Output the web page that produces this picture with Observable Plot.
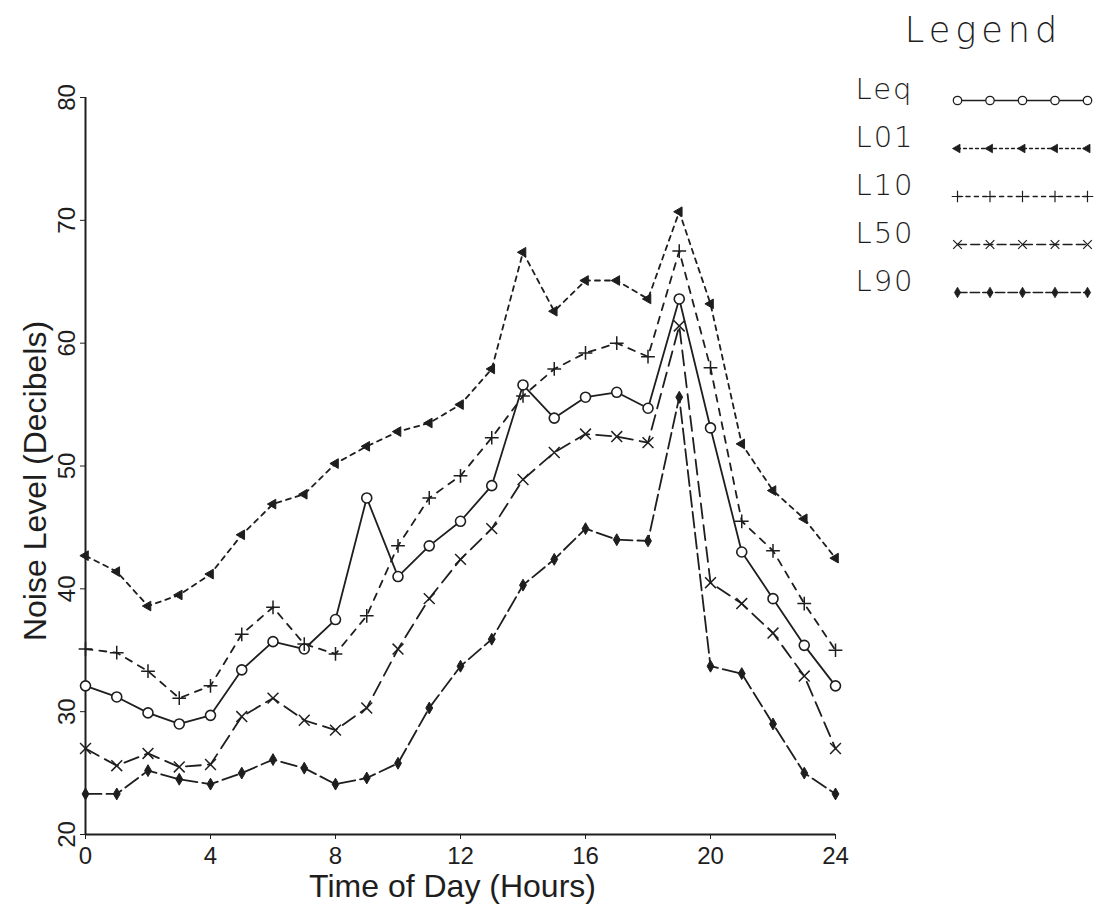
<!DOCTYPE html>
<html>
<head>
<meta charset="utf-8">
<script src="https://cdn.jsdelivr.net/npm/d3@7"></script>
<script src="https://cdn.jsdelivr.net/npm/@observablehq/plot@0.6"></script>
<style>
  body { margin: 0; background: #fff; }
  #wrap { position: relative; width: 1094px; height: 917px; overflow: hidden; background: #fff; }
  #wrap svg { position: absolute; }
</style>
</head>
<body>
<div id="wrap"></div>
<script>
// ---------- data ----------
const hours = [0, 1, 2, 3, 4, 5, 6, 7, 8, 9, 10, 11, 12, 13, 14, 15, 16, 17, 18, 19, 20, 21, 22, 23, 24];
const leq = [32.1, 31.2, 29.9, 29.0, 29.7, 33.4, 35.7, 35.1, 37.5, 47.4, 41.0, 43.5, 45.5, 48.4, 56.6, 53.9, 55.6, 56.0, 54.7, 63.6, 53.1, 43.0, 39.2, 35.4, 32.1];
const l01 = [42.7, 41.4, 38.6, 39.5, 41.2, 44.4, 46.9, 47.7, 50.2, 51.6, 52.8, 53.5, 55.0, 57.9, 67.4, 62.6, 65.1, 65.1, 63.6, 70.7, 63.2, 51.8, 48.0, 45.7, 42.5];
const l10 = [35.1, 34.8, 33.3, 31.1, 32.1, 36.3, 38.5, 35.5, 34.7, 37.8, 43.5, 47.4, 49.2, 52.3, 55.7, 57.9, 59.2, 60.0, 58.9, 67.5, 58.0, 45.5, 43.1, 38.8, 35.0];
const l50 = [27.0, 25.6, 26.6, 25.5, 25.7, 29.6, 31.1, 29.3, 28.5, 30.3, 35.1, 39.2, 42.4, 44.9, 48.9, 51.1, 52.6, 52.4, 51.9, 61.4, 40.5, 38.8, 36.4, 32.9, 27.0];
const l90 = [23.3, 23.3, 25.2, 24.5, 24.1, 25.0, 26.1, 25.4, 24.1, 24.6, 25.8, 30.3, 33.7, 35.9, 40.3, 42.4, 44.9, 44.0, 43.9, 55.6, 33.7, 33.1, 29.0, 25.0, 23.3];
const seriesNames = ["Leq", "L01", "L10", "L50", "L90"];
const xTicks = [0, 4, 8, 12, 16, 20, 24];
const yTicks = [20, 30, 40, 50, 60, 70, 80];
const legendSteps = [0, 1, 2, 3, 4];
const xLabel = "Time of Day (Hours)";
const yLabel = "Noise Level (Decibels)";
const legendTitle = "Legend";

// ---------- styles ----------
const ink = "#1e1e1e";
const seriesValues = { Leq: leq, L01: l01, L10: l10, L50: l50, L90: l90 };
const styles = {
  Leq: { dash: null,   symbol: "circle",   r: 5,   fill: "#fff", stroke: ink, sw: 1.6, rotate: 0,   lr: 4.2 },
  L01: { dash: "5,5",  symbol: "triangle", r: 3.6, fill: ink,    stroke: ink, sw: 1,   rotate: -90, lr: 3.2 },
  L10: { dash: "7,7",  symbol: "plus",     r: 4.5, fill: "none", stroke: ink, sw: 1.5, rotate: 0,   lr: 3.8 },
  L50: { dash: "15,7", symbol: "times",    r: 5,   fill: "none", stroke: ink, sw: 1.5, rotate: 0,   lr: 4 },
  L90: { dash: "16,5", symbol: "diamond",  r: 3.6, fill: ink,    stroke: ink, sw: 1,   rotate: 0,   lr: 3.2 }
};

const rows = seriesNames.flatMap(name => hours.map((h, i) => ({ name, hour: h, value: seriesValues[name][i] })));

const marks = [
  Plot.ruleX([0], { stroke: ink, strokeWidth: 2 }),
  Plot.ruleY([20], { stroke: ink, strokeWidth: 2 })
];
for (const name of seriesNames) {
  const st = styles[name];
  const data = rows.filter(d => d.name === name);
  marks.push(Plot.line(data, { x: "hour", y: "value", stroke: ink, strokeWidth: 1.8, strokeDasharray: st.dash || undefined }));
}
for (const name of seriesNames) {
  const st = styles[name];
  const data = rows.filter(d => d.name === name);
  marks.push(Plot.dot(data, { x: "hour", y: "value", symbol: st.symbol, r: st.r, fill: st.fill, stroke: st.stroke, strokeWidth: st.sw, rotate: st.rotate }));
}
marks.push(
  Plot.text(yTicks, { y: d => d, text: d => String(d), frameAnchor: "left", rotate: -90, dx: -18, textAnchor: "middle", lineAnchor: "middle", fontSize: 24, fill: ink }),
  Plot.text([yLabel], { text: d => d, frameAnchor: "left", rotate: -90, dx: -50, dy: 15, textAnchor: "middle", lineAnchor: "middle", fontSize: 32, fill: ink }),
  Plot.text([xLabel], { text: d => d, frameAnchor: "bottom", dx: -8, dy: 52, textAnchor: "middle", lineAnchor: "middle", fontSize: 32, fill: ink })
);

const chart = Plot.plot({
  width: 1094,
  height: 917,
  marginLeft: 85,
  marginRight: 259,
  marginTop: 97,
  marginBottom: 83,
  style: { fontFamily: "'Liberation Sans', Arial, sans-serif", fontSize: "24px", color: ink, background: "transparent", overflow: "visible" },
  x: { domain: [0, 24], ticks: xTicks, tickSize: 5, tickPadding: 7, tickFormat: d => String(d), label: null },
  y: { domain: [20, 80], ticks: yTicks, tickSize: 5, tickFormat: () => "", label: null },
  marks
});
chart.style.left = "0px";
chart.style.top = "0px";
document.getElementById("wrap").appendChild(chart);

// ---------- legend ----------
const legendRows = seriesNames.flatMap(name => legendSteps.map(s => ({ name, step: s })));
const legendMarks = [
  Plot.text([legendTitle], { text: d => d, frameAnchor: "top", dx: 11, dy: 30, textAnchor: "middle", lineAnchor: "middle", fontSize: 35, fill: ink, fontWeight: 300 }),
  Plot.text(seriesNames, { y: d => d, text: d => d, frameAnchor: "left", dy: -11, textAnchor: "start", lineAnchor: "middle", fontSize: 29, fill: ink, fontWeight: 300 })
];
for (const name of seriesNames) {
  const st = styles[name];
  const data = legendRows.filter(d => d.name === name);
  legendMarks.push(Plot.line(data, { x: "step", y: "name", stroke: ink, strokeWidth: 1.3, strokeDasharray: st.dash ? st.dash.split(",").map(v => +v * 0.6).join(",") : undefined }));
  legendMarks.push(Plot.dot(data, { x: "step", y: "name", symbol: st.symbol, r: st.lr, fill: st.fill, stroke: st.stroke, strokeWidth: st.sw * 0.8, rotate: st.rotate }));
}
const legend = Plot.plot({
  width: 244,
  height: 320,
  marginLeft: 5,
  marginRight: 5,
  marginTop: 0,
  marginBottom: 0,
  style: { fontFamily: "'DejaVu Sans', 'Open Sans', sans-serif", color: ink, background: "transparent", overflow: "visible" },
  x: { domain: [0, 4], range: [107, 237], axis: null },
  y: { type: "point", domain: seriesNames, range: [99, 292], padding: 0, axis: null },
  marks: legendMarks
});
legend.style.left = "850px";
legend.style.top = "0px";
const legendTextGroups = legend.querySelectorAll('g[aria-label="text"]');
if (legendTextGroups[0]) legendTextGroups[0].setAttribute("letter-spacing", "5");
if (legendTextGroups[1]) legendTextGroups[1].setAttribute("letter-spacing", "2");
document.getElementById("wrap").appendChild(legend);
</script>
</body>
</html>
